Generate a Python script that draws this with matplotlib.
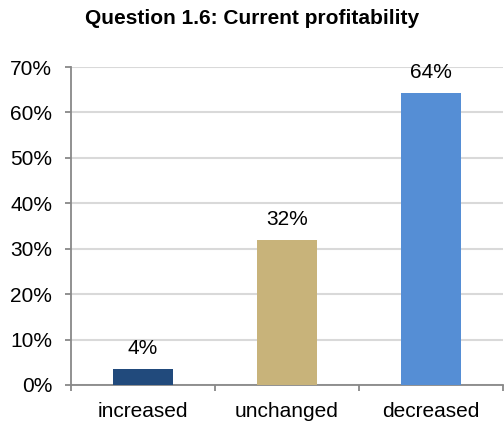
import matplotlib
matplotlib.use("Agg")
import matplotlib.pyplot as plt
from matplotlib.ticker import FixedLocator, PercentFormatter

plt.rcParams['font.family'] = ['Liberation Sans', 'DejaVu Sans']

categories = ["increased", "unchanged", "decreased"]
values = [3.6, 32.0, 64.3]
labels = ["4%", "32%", "64%"]
colors = ["#214A7C", "#C8B37A", "#558ED5"]
title = "Question 1.6: Current profitability"

W, H = 504, 421
fig = plt.figure(figsize=(W / 100, H / 100), dpi=100)
ax = fig.add_axes([71 / W, (H - 385) / H, (503 - 71) / W, (385 - 67) / H])

x = list(range(len(categories)))
bars = ax.bar(x, values, width=0.41, color=colors, zorder=3)
for xi, v, lab in zip(x, values, labels):
    ax.annotate(lab, (xi, v), xytext=(0, 10.5), textcoords="offset points",
                ha="center", va="baseline", fontsize=15, color="#000000")

ax.set_xlim(-0.5, len(categories) - 0.5)
ax.set_ylim(0, 70)
ax.set_yticks(range(0, 71, 10))
ax.yaxis.set_major_formatter(PercentFormatter(decimals=0))
ax.set_xticks(x)
ax.set_xticklabels(categories)
ax.xaxis.set_minor_locator(FixedLocator([i - 0.5 for i in range(len(categories) + 1)]))
ax.tick_params(axis="x", which="major", length=0, pad=12.5, labelsize=15)
ax.tick_params(axis="x", which="minor", length=4.5, width=1.3, color="#888888", direction="out")
ax.tick_params(axis="y", which="major", length=4.5, width=1.3, color="#888888",
               labelsize=15, pad=9)

ax.grid(axis="y", color="#D9D9D9", linewidth=1.5, zorder=0)
ax.set_axisbelow(True)
for s in ["top", "right"]:
    ax.spines[s].set_visible(False)
for s in ["left", "bottom"]:
    ax.spines[s].set_color("#888888")
    ax.spines[s].set_linewidth(1.3)

fig.text(0.5, 1 - 19 / H, title, ha="center", va="center", fontsize=15,
         fontweight="bold")

fig.savefig("out.png", dpi=100)
